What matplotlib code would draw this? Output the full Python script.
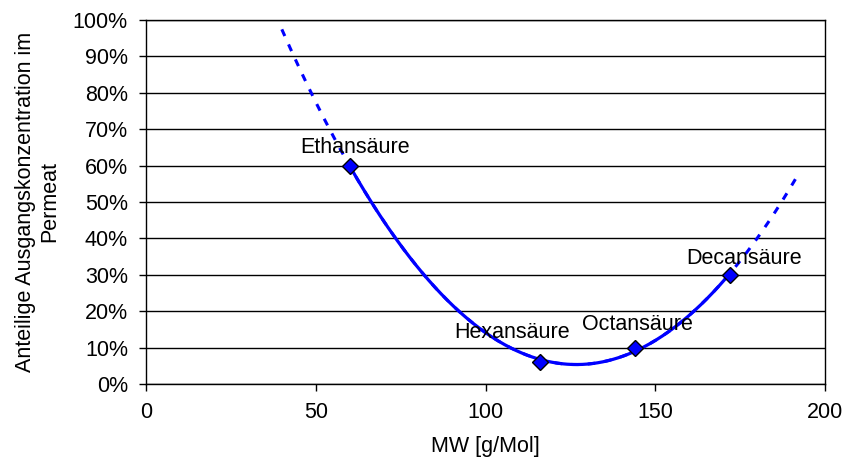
import numpy as np
import matplotlib
matplotlib.use("Agg")
import matplotlib.pyplot as plt
from matplotlib.ticker import PercentFormatter

plt.rcParams['font.family'] = ['Liberation Sans', 'DejaVu Sans']

names = ["Ethansäure", "Hexansäure", "Octansäure", "Decansäure"]
mw = [60, 116, 144, 172]
share = [0.60, 0.06, 0.10, 0.30]
trend_range = [40, 192]

fig = plt.figure(figsize=(8.46, 4.65), dpi=100)
ax = fig.add_axes([0.1726, 0.1742, 0.9752 - 0.1726, 0.957 - 0.1742])

x = np.array(mw, float)
y = np.array(share, float)

# polynomial (order 2) trendline
c2 = np.polyfit(x, y, 2)

# smoothed series line between the data points
xs = np.linspace(x.min(), x.max(), 300)
ax.plot(xs, np.polyval(c2, xs), color='#0000FF', lw=2.3, zorder=3)

# dashed trendline over the extended range
xt = np.linspace(trend_range[0], trend_range[1], 300)
ax.plot(xt, np.polyval(c2, xt), color='#0000FF', lw=2.2, ls=(0, (2.4, 3.0)), zorder=3)

ax.plot(x, y, ls='none', marker='D', ms=8.5, mfc='#0000FF', mec='black', mew=1, zorder=4)

offsets = [(4, 13), (-20, 21), (2, 16.5), (10, 12)]
for n, xi, yi, off in zip(names, mw, share, offsets):
    ax.annotate(n, (xi, yi), xytext=off, textcoords='offset points',
                ha='center', va='center', fontsize=15.5, zorder=5)

ax.set_xlim(0, 200)
ax.set_ylim(0, 1.0)
ax.set_xticks([0, 50, 100, 150, 200])
ax.set_yticks(np.arange(0, 1.01, 0.1))
ax.yaxis.set_major_formatter(PercentFormatter(1.0, decimals=0))
ax.grid(axis='y', color='black', lw=1)
ax.set_axisbelow(True)
for s in ax.spines.values():
    s.set_color('black')
    s.set_linewidth(1)
ax.tick_params(axis='both', direction='out', length=5, width=1, colors='black', labelsize=15.5)
ax.tick_params(axis='x', pad=8)
ax.tick_params(axis='y', pad=8)
ax.set_xlabel("MW [g/Mol]", fontsize=15.5, labelpad=9)
ax.set_ylabel("Anteilige Ausgangskonzentration im\nPermeat", fontsize=15.5, labelpad=9)

fig.savefig("out.png", dpi=100)
